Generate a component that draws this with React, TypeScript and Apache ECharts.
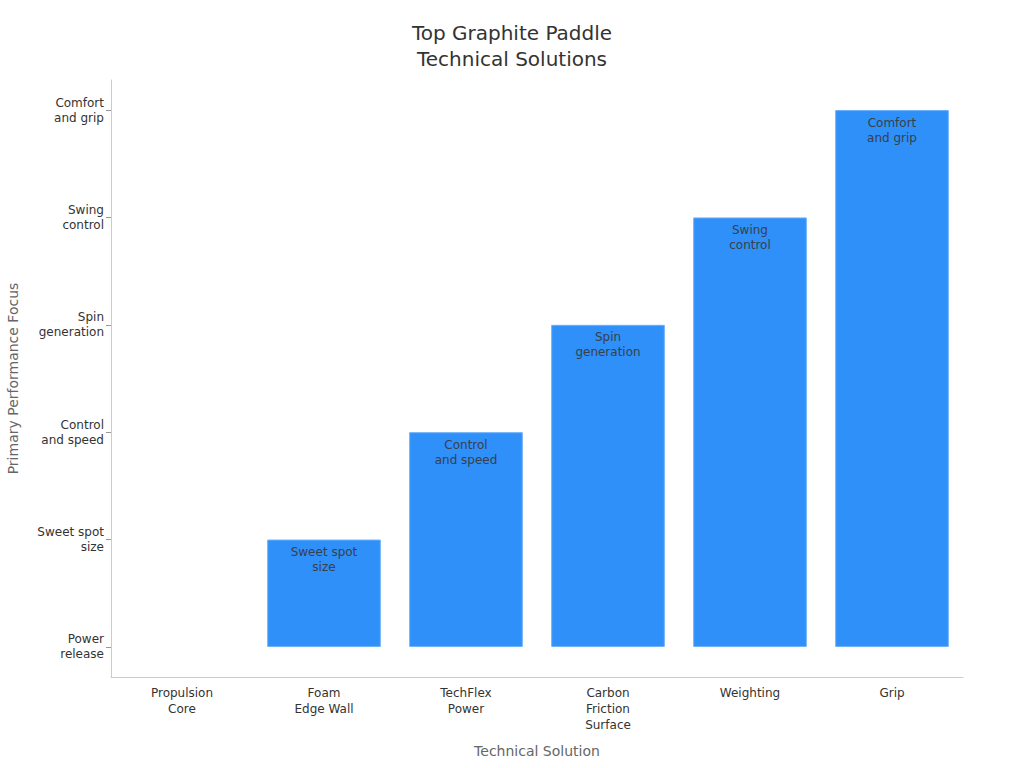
import React, { useEffect, useRef } from 'react';
import * as echarts from 'echarts';

const solutions = [
  'Propulsion\nCore',
  'Foam\nEdge Wall',
  'TechFlex\nPower',
  'Carbon\nFriction\nSurface',
  'Weighting',
  'Grip',
];

const focusLevels = [
  'Power\nrelease',
  'Sweet spot\nsize',
  'Control\nand speed',
  'Spin\ngeneration',
  'Swing\ncontrol',
  'Comfort\nand grip',
];

// index into focusLevels for each solution
const focusValues = [0, 1, 2, 3, 4, 5];

const focusTicks = [0, 1, 2, 3, 4, 5];

const FONT = "'DejaVu Sans', sans-serif";

const App: React.FC = () => {
  const chartRef = useRef<HTMLDivElement>(null);

  useEffect(() => {
    if (!chartRef.current) return;
    const chart = echarts.init(chartRef.current, null, { renderer: 'svg' });

    const option: echarts.EChartsOption = {
      animation: false,
      backgroundColor: '#ffffff',
      textStyle: { fontFamily: FONT },
      title: {
        text: 'Top Graphite Paddle\nTechnical Solutions',
        left: 'center',
        top: 15,
        textStyle: {
          fontFamily: FONT,
          fontSize: 20,
          fontWeight: 'normal',
          color: '#333333',
          lineHeight: 26,
        },
      },
      grid: { left: 111, right: 61, top: 80, bottom: 91, outerBoundsMode: 'none' } as any,
      xAxis: {
        type: 'category',
        data: solutions,
        name: 'Technical Solution',
        nameLocation: 'middle',
        nameGap: 67,
        nameTextStyle: { fontFamily: FONT, fontSize: 14, color: '#666666' },
        axisLine: { onZero: false, lineStyle: { color: '#cccccc' } },
        axisTick: { alignWithLabel: true, length: 5, lineStyle: { color: '#aaaaaa' } },
        axisLabel: {
          fontFamily: FONT,
          fontSize: 12,
          color: '#333333',
          lineHeight: 16,
          margin: 8,
          interval: 0,
        },
      },
      yAxis: {
        type: 'value',
        min: -0.28,
        max: 5.28,
        name: 'Primary Performance Focus',
        nameLocation: 'middle',
        nameGap: 91,
        nameTextStyle: { fontFamily: FONT, fontSize: 14, color: '#666666' },
        splitLine: { show: false },
        axisLine: { show: true, onZero: false, lineStyle: { color: '#cccccc' } },
        axisTick: {
          show: true,
          length: 5,
          customValues: focusTicks,
          lineStyle: { color: '#999999' },
        },
        axisLabel: {
          customValues: focusTicks,
          fontFamily: FONT,
          fontSize: 12,
          color: '#333333',
          lineHeight: 15,
          margin: 7,
          formatter: (v: number) => focusLevels[Math.round(v)] ?? '',
        },
      },
      series: [
        {
          type: 'bar',
          barWidth: '80%',
          data: focusValues.map((v) => ({
            value: v,
            itemStyle: v === 0 ? { borderWidth: 0, opacity: 0 } : undefined,
          })),
          itemStyle: {
            color: '#2e90f8',
            borderColor: '#6aaefb',
            borderWidth: 1,
          },
          label: {
            show: true,
            position: 'insideTop',
            distance: 5,
            fontFamily: FONT,
            fontSize: 12,
            lineHeight: 15,
            color: '#3a3f4a',
            formatter: (p: any) => (p.value > 0 ? focusLevels[p.value] : ''),
          },
        },
      ],
    };

    chart.setOption(option);
    return () => {
      chart.dispose();
    };
  }, []);

  return <div ref={chartRef} style={{ width: 1024, height: 768, position: 'absolute', left: 0, top: 0 }} />;
};

export default App;
